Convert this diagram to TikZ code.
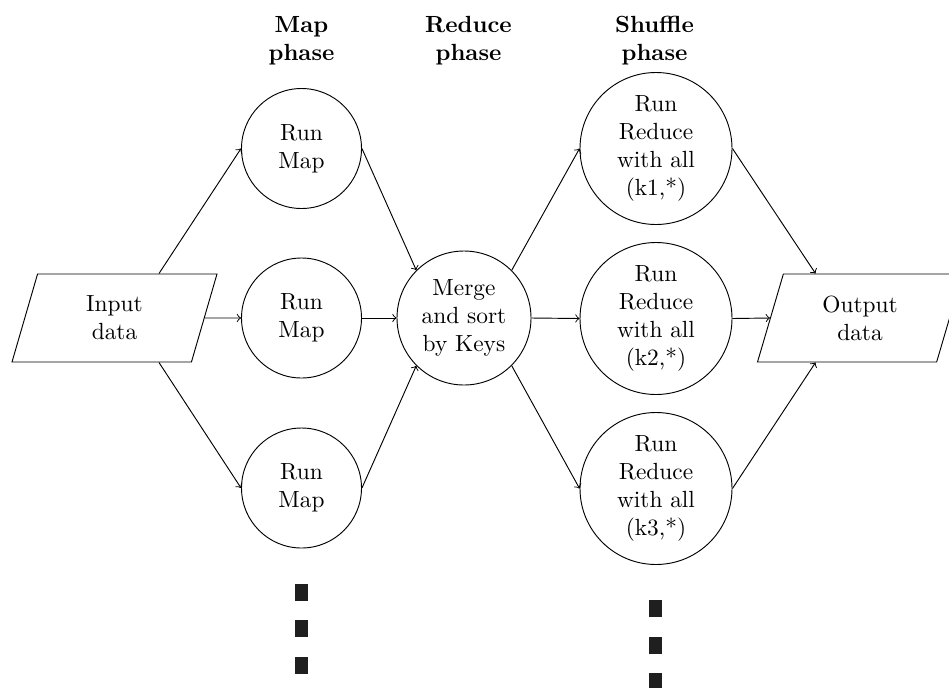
\documentclass[tikz,border=0pt]{standalone}
\usetikzlibrary{shapes.geometric,arrows}
\begin{document}
\begin{tikzpicture}[
  x=0.42782pt, y=-0.42782pt,
  proc/.style={circle, draw, align=center, inner sep=0pt},
  mapnode/.style={proc, minimum size=51.34pt},
  mergenode/.style={proc, minimum size=57.33pt},
  rednode/.style={proc, minimum size=65.03pt},
  datanode/.style={trapezium, trapezium left angle=60, trapezium right angle=120,
    trapezium stretches body, draw, align=center,
    minimum width=87.7pt, minimum height=37.65pt, inner sep=0pt},
  phase/.style={align=center, font=\bfseries},
  flow/.style={->},
  dotsq/.style={fill=black!88}
]
\useasboundingbox (0,0) rectangle (949,687);

% phase headings
\node[phase] (hmap) at (301.5,41) {Map\\phase};
\node[phase] (hred) at (468.5,41) {Reduce\\phase};
\node[phase] (hshf) at (654.5,41) {Shuffle\\phase};

% data nodes
\node[datanode] (input)  at (114.5,318) {Input\\data};
\node[datanode] (output) at (860,318)   {Output\\data};

% map tasks
\node[mapnode] (map1) at (301.5,148.5) {Run\\Map};
\node[mapnode] (map2) at (301.5,318)   {Run\\Map};
\node[mapnode] (map3) at (301.5,488)   {Run\\Map};

% merge step
\node[mergenode] (merge) at (464,318) {Merge\\and sort\\by Keys};

% reduce tasks
\node[rednode] (red1) at (656,148.5) {Run\\Reduce\\with all\\(k1,*)};
\node[rednode] (red2) at (656,318.5) {Run\\Reduce\\with all\\(k2,*)};
\node[rednode] (red3) at (656,488.5) {Run\\Reduce\\with all\\(k3,*)};

% connectors
\draw[flow] (input.45)  -- (map1.west);
\draw[flow] (input.0)   -- (map2.west);
\draw[flow] (input.-45) -- (map3.west);

\draw[flow] (map1.east) -- (merge.135);
\draw[flow] (map2.east) -- (merge.west);
\draw[flow] (map3.east) -- (merge.225);

\draw[flow] (merge.45)  -- (red1.west);
\draw[flow] (merge.east) -- (red2.west);
\draw[flow] (merge.-45) -- (red3.west);

\draw[flow] (red1.east) -- (output.135);
\draw[flow] (red2.east) -- (output.180);
\draw[flow] (red3.east) -- (output.225);

% continuation marks below the map and reduce columns
\fill[dotsq] (295,584) rectangle (308,601);
\fill[dotsq] (295,620) rectangle (308,637);
\fill[dotsq] (295,657) rectangle (308,674);

\fill[dotsq] (649,600) rectangle (662,617);
\fill[dotsq] (649,637) rectangle (662,654);
\fill[dotsq] (649,673) rectangle (662,690);
\end{tikzpicture}
\end{document}
